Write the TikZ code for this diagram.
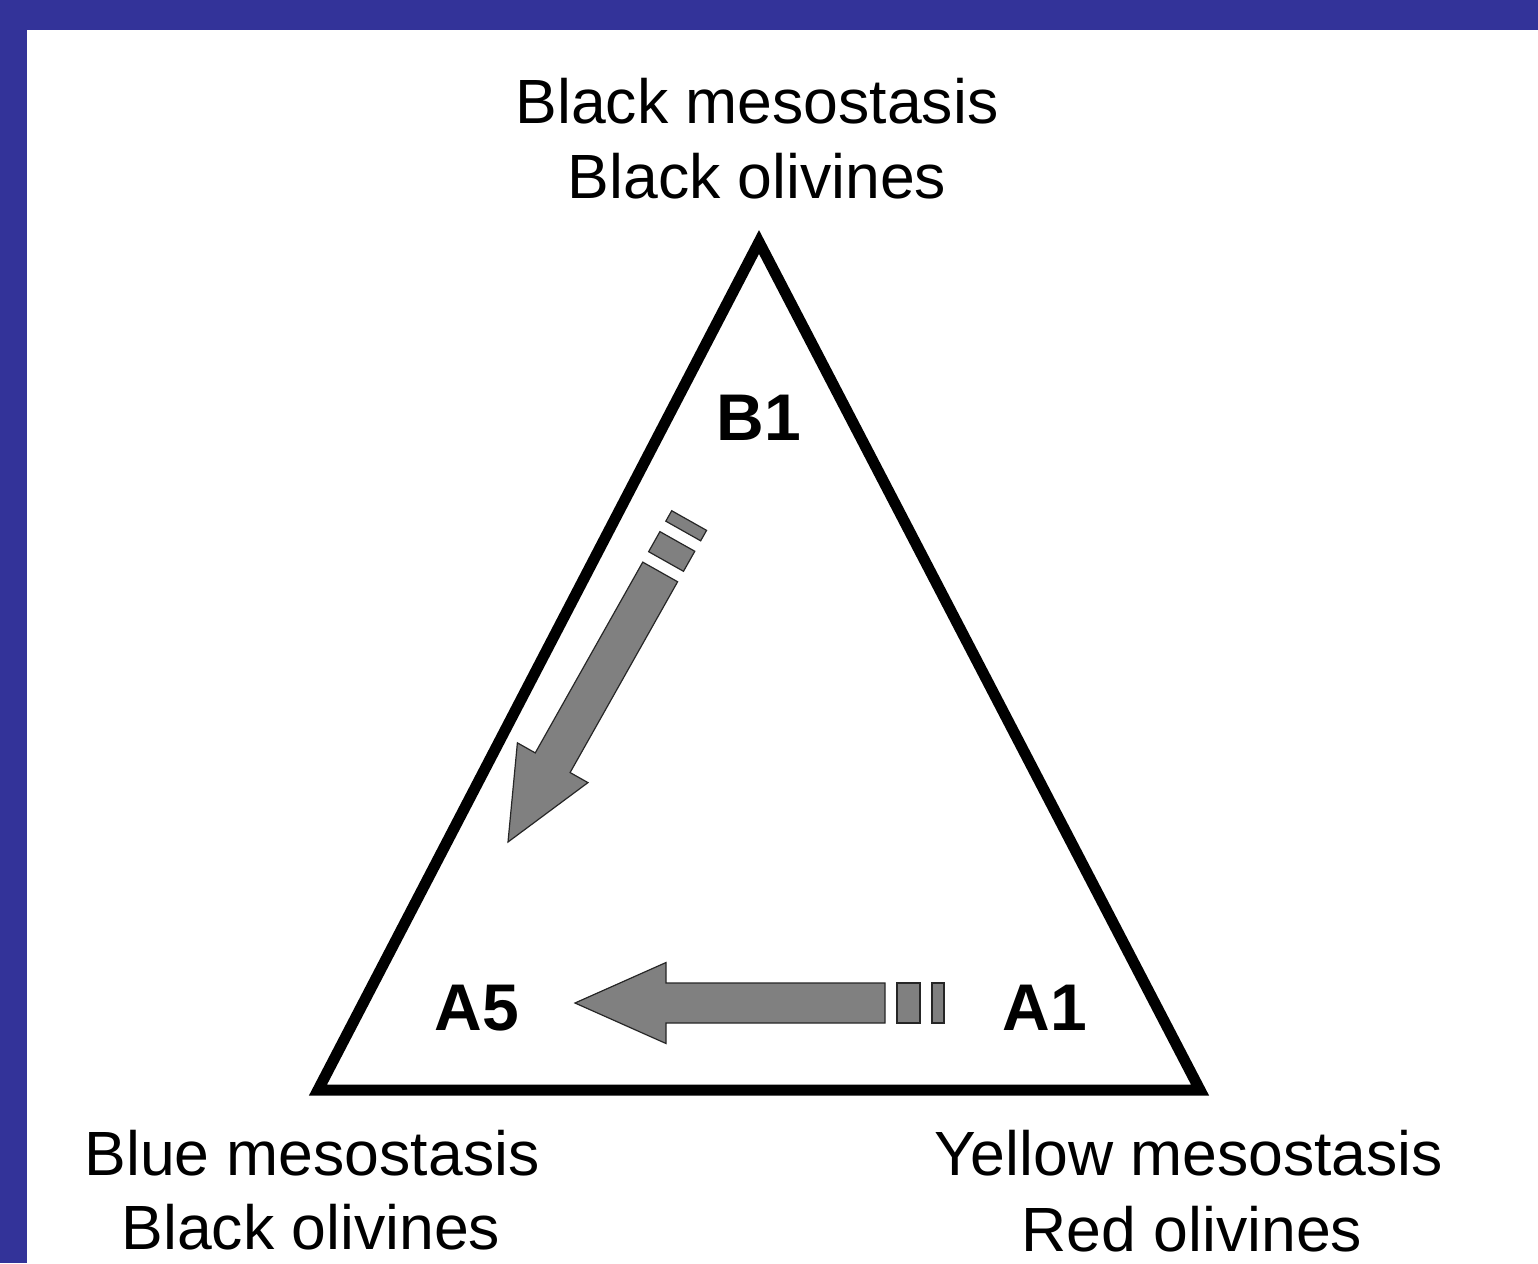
\documentclass[tikz,border=0pt]{standalone}
\usepackage{fontspec}
\setmainfont{Liberation Sans}
\definecolor{frameblue}{HTML}{333399}
\definecolor{arrowgray}{HTML}{808080}
\begin{document}
\begin{tikzpicture}[x=1pt,y=-1pt,
  lbl/.style={inner sep=0pt,anchor=base,font=\fontsize{62.5}{75}\selectfont},
  blbl/.style={inner sep=0pt,anchor=base,font=\fontsize{66}{78}\selectfont\bfseries},
  tri/.style={line width=11pt,line join=miter},
  garrow/.style={fill=arrowgray,draw=black!85,line width=1.2pt,line join=miter}]
\useasboundingbox (0,0) rectangle (1538,1263);
\fill[frameblue] (0,0) rectangle (1538,1263);
\fill[white] (27,30) rectangle (1538,1263);
% triangle
\coordinate (apex) at (759,242);
\coordinate (bl) at (318,1090);
\coordinate (br) at (1200,1090);
\draw[tri] (apex) -- (bl) -- (br) -- cycle;
% labels
\node[lbl] (t1) at (757,123) {Black mesostasis};
\node[lbl] (t2) at (757,198) {Black olivines};
\node[lbl] (l1) at (312,1175) {Blue mesostasis};
\node[lbl] (l2) at (311,1249) {Black olivines};
\node[lbl] (r1) at (1189,1175) {Yellow mesostasis};
\node[lbl] (r2) at (1192,1251) {Red olivines};
\node[blbl] (b1) at (759,440) {B1};
\node[blbl] (a5) at (477,1030) {A5};
\node[blbl] (a1) at (1045,1030) {A1};
% horizontal arrow (A1 -> A5)
\begin{scope}[shift={(575,1003)}]
  \draw[garrow] (0,0) -- (91,-40.5) -- (91,-20) -- (310,-20) -- (310,20) -- (91,20) -- (91,40.5) -- cycle;
  \draw[garrow] (322,-20) rectangle (345,20);
  \draw[garrow] (357,-20) rectangle (369,20);
\end{scope}
% diagonal arrow (B1 -> A5)
\begin{scope}[shift={(508,842)},rotate=60.6]
  \draw[garrow] (0,0) -- (91,-40.5) -- (91,-20) -- (310,-20) -- (310,20) -- (91,20) -- (91,40.5) -- cycle;
  \draw[garrow] (322,-20) rectangle (345,20);
  \draw[garrow] (357,-20) rectangle (369,20);
\end{scope}
\end{tikzpicture}
\end{document}
